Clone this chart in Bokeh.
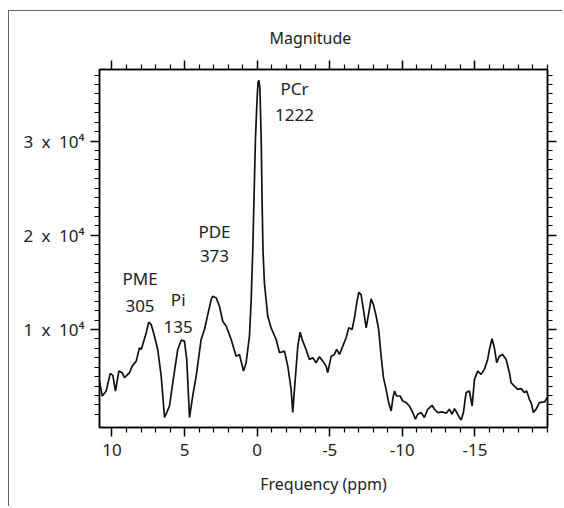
from bokeh.plotting import figure
from bokeh.models import Range1d, FixedTicker, LinearAxis
from bokeh.embed import file_html
from bokeh.resources import INLINE
from bokeh.core.properties import value

# ---- data (ppm, magnitude) ----
freq_ppm = [10.86, 10.67, 10.40, 10.12, 9.94, 9.76, 9.53, 9.30, 9.14, 8.79, 8.61, 8.33, 8.11, 7.99, 7.88,
            7.64, 7.47, 7.30, 7.07, 6.85, 6.61, 6.38, 6.23, 6.04, 5.81, 5.47, 5.23, 5.01, 4.85, 4.66,
            4.44, 4.20, 3.86, 3.63, 3.40, 3.17, 3.06, 2.82, 2.60, 2.37, 2.13, 1.79, 1.45, 1.22, 0.94,
            0.76, 0.53, 0.41, 0.34, 0.30, 0.22, 0.12, 0.01, -0.06, -0.12, -0.19, -0.28, -0.34, -0.40,
            -0.50, -0.73, -0.96, -1.31, -1.54, -1.88, -2.11, -2.34, -2.45, -2.64, -2.80, -2.96, -3.14,
            -3.37, -3.60, -3.83, -4.06, -4.29, -4.52, -4.75, -4.86, -5.10, -5.32, -5.48, -5.67, -5.90,
            -6.13, -6.31, -6.54, -6.70, -6.86, -7.00, -7.16, -7.32, -7.51, -7.69, -7.85, -8.01, -8.20,
            -8.37, -8.54, -8.70, -8.88, -9.06, -9.23, -9.34, -9.46, -9.61, -9.85, -10.03, -10.26,
            -10.49, -10.72, -10.90, -11.06, -11.29, -11.52, -11.75, -12.05, -12.21, -12.44, -12.78,
            -13.02, -13.24, -13.43, -13.59, -13.75, -13.93, -14.05, -14.21, -14.39, -14.62, -14.81,
            -14.97, -15.19, -15.43, -15.65, -15.88, -16.00, -16.18, -16.34, -16.50, -16.69, -16.91,
            -17.15, -17.38, -17.49, -17.72, -17.95, -18.18, -18.41, -18.57, -18.75, -18.87, -19.03,
            -19.21, -19.44, -19.79, -20.0]
magnitude = [4530, 2943, 3472, 5345, 5133, 3472, 5588, 5419, 4890, 5419, 6117, 6646, 8064, 7884, 8413,
             9651, 10772, 10529, 9291, 7884, 5059, 658, 1187, 1885, 4361, 7884, 8868, 8762, 6826, 658,
             2943, 5059, 8942, 10000, 11587, 13174, 13523, 13354, 12465, 10878, 10349, 8942, 7175, 7355,
             5588, 6477, 9291, 13174, 16697, 18464, 23754, 30102, 34334, 36238, 36450, 35604, 30102,
             23754, 18464, 14941, 11407, 10180, 8942, 7535, 7704, 6117, 3652, 1187, 5059, 8233, 9714,
             8762, 7884, 6826, 7006, 6477, 7112, 6646, 6117, 5419, 7175, 7355, 7884, 7355, 8233, 9122,
             10180, 10000, 11238, 12825, 13946, 13703, 12116, 10180, 11767, 13248, 12645, 11407, 10000,
             7175, 4890, 3652, 2245, 1356, 2594, 3472, 2943, 2943, 2414, 2245, 1885, 1187, 478, 1007,
             1187, 658, 1536, 1959, 1536, 1187, 1253, 1113, 1536, 1007, 1610, 1187, 658, 404, 1187,
             3303, 3472, 1885, 4710, 5588, 5239, 5768, 6826, 7884, 9016, 8064, 6477, 7175, 7355, 6826,
             5419, 4361, 4001, 3652, 3726, 3303, 3472, 2594, 2245, 1187, 1536, 2245, 2318, 2774]

peak_names = ["PCr", "PDE", "PME", "Pi"]
peak_values = ["1222", "373", "305", "135"]
label_ppm = [-2.57, 2.94, 8.07, 5.44]
name_level = [35604, 20400, 15364, 13174]
value_level = [32747, 17755, 12539, 10286]

x_major = [10, 5, 0, -5, -10, -15]
x_tick_labels = {10: "10", 5: "5", 0: "0", -5: "-5", -10: "-10", -15: "-15"}
x_minor = [v for v in range(10, -21, -1) if v not in x_major]
y_major = [10000, 20000, 30000]
y_minor = [v for v in range(1000, 38000, 1000) if v not in y_major]
y_tick_labels = {10000: "1\u2002x\u200210\u2074", 20000: "2\u2002x\u200210\u2074",
                 30000: "3\u2002x\u200210\u2074"}

FONT = "Noto Sans"
INK = "#222222"

p = figure(width=554, height=496, output_backend="svg", toolbar_location=None,
           x_range=Range1d(10.86, -20.0), y_range=Range1d(-400, 37600),
           min_border_left=90, min_border_right=16, min_border_top=58, min_border_bottom=80,
           background_fill_color="white", border_fill_color="white")
p.margin = (10, 0, 0, 8)
p.styles = {"border-left": "1.5px solid #666666", "border-top": "1.5px solid #666666"}
p.grid.visible = False
p.outline_line_color = "black"
p.outline_line_width = 1.5

p.title.text = "Magnitude"
p.title.align = "left"
p.title.offset = 170
p.title.text_font = FONT
p.title.text_font_size = "16px"
p.title.text_font_style = "normal"
p.title.text_color = INK
p.title.standoff = 23

xt = FixedTicker(ticks=x_major, minor_ticks=x_minor)
yt = FixedTicker(ticks=y_major, minor_ticks=y_minor)

def style_axis(ax):
    ax.axis_line_color = "black"
    ax.axis_line_width = 1.5
    ax.major_tick_line_color = "black"
    ax.minor_tick_line_color = "black"
    ax.major_tick_line_width = 1.5
    ax.minor_tick_line_width = 1.2
    ax.major_tick_in = 0
    ax.minor_tick_in = 0
    ax.major_tick_out = 9
    ax.minor_tick_out = 5
    ax.major_label_text_font = FONT
    ax.major_label_text_font_size = "17px"
    ax.major_label_text_color = INK

xa = p.xaxis[0]
xa.ticker = xt
style_axis(xa)
xa.major_label_overrides = x_tick_labels
xa.major_label_standoff = 7
xa.axis_label = "Frequency (ppm)"
xa.axis_label_text_font = FONT
xa.axis_label_text_font_size = "16px"
xa.axis_label_text_font_style = "normal"
xa.axis_label_text_color = INK
xa.axis_label_standoff = 14

ya = p.yaxis[0]
ya.ticker = yt
style_axis(ya)
ya.major_label_overrides = y_tick_labels
ya.major_label_standoff = 6

top = LinearAxis(ticker=xt)
style_axis(top)
top.major_label_overrides = {t: "" for t in x_major}
top.major_label_standoff = 0
p.add_layout(top, "above")
right = LinearAxis(ticker=yt)
style_axis(right)
right.major_label_overrides = {t: "" for t in y_major}
right.major_label_standoff = 0
p.add_layout(right, "right")

p.line(freq_ppm, magnitude, line_color="#111111", line_width=1.7)

p.text(x=label_ppm, y=name_level, text=peak_names, text_font=value(FONT),
       text_font_size="17px", text_align="center", text_baseline="middle", text_color=INK)
p.text(x=label_ppm, y=value_level, text=peak_values, text_font=value(FONT),
       text_font_size="17px", text_align="center", text_baseline="middle", text_color=INK)

open("out.html", "w").write(file_html(p, INLINE))
